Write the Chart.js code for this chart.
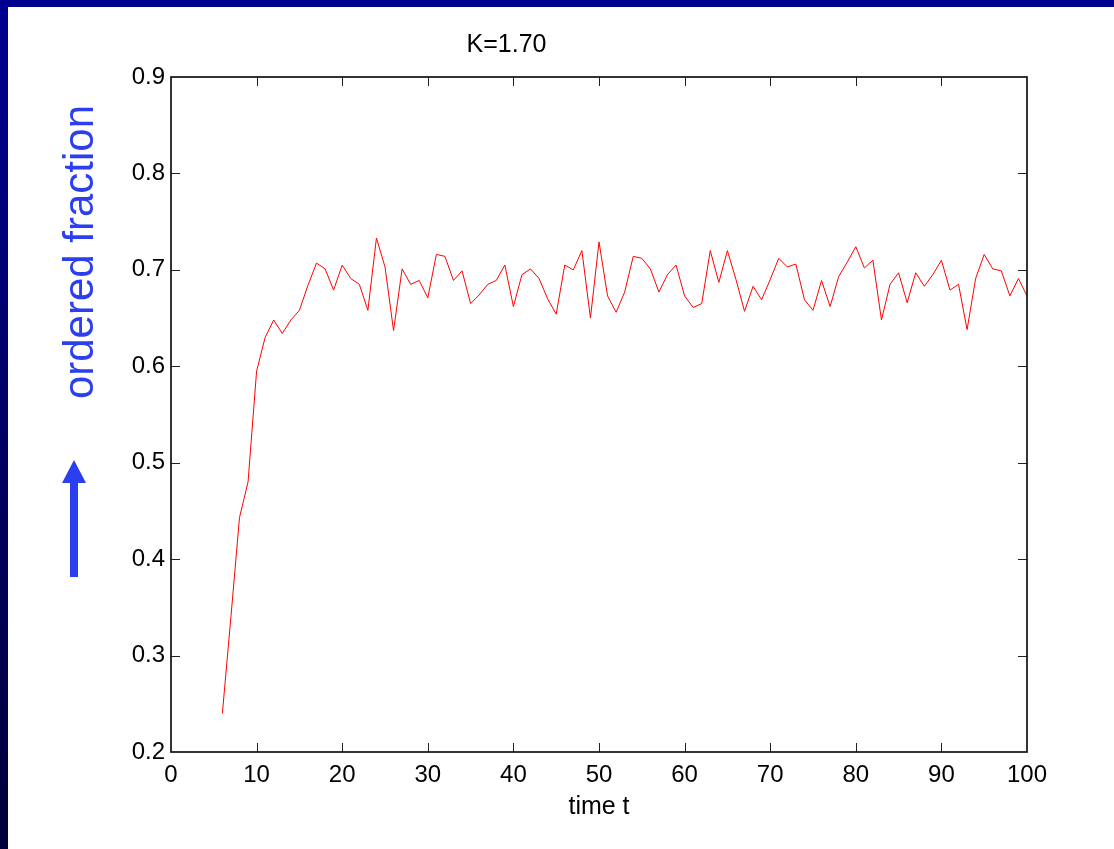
<!DOCTYPE html>
<html>
<head>
<meta charset="utf-8">
<title>K=1.70</title>
<script src="https://cdn.jsdelivr.net/npm/chart.js@4"></script>
<style>
    html, body { margin: 0; padding: 0; background: #ffffff; overflow: hidden; }
    .frame-top { position: absolute; left: 0; top: 0; width: 1114px; height: 7px; background: #000090; z-index: 2; }
    .frame-left { position: absolute; left: 0; top: 0; width: 8px; height: 849px; background: linear-gradient(#000090, #00003a); z-index: 2; }
    /* canvas hangs 14px off the left edge so the title centres where the original has it */
    canvas { position: absolute; left: -14px; top: 0; }
</style>
</head>
<body>
<div class="frame-top"></div>
<div class="frame-left"></div>
<canvas id="order-chart" width="1128" height="849"></canvas>
<script>
// ordered fraction vs time, K = 1.70
const chartTitle = "K=1.70"
const xAxisLabel = "time t"
const yAxisLabel = "ordered fraction"

const firstStep = 6
const orderedFraction = [
    0.240, 0.340, 0.443, 0.480, 0.595, 0.630, 0.648, 0.634, 0.648, 0.658,
    0.684, 0.707, 0.701, 0.679, 0.705, 0.691, 0.685, 0.658, 0.733, 0.703,
    0.637, 0.701, 0.685, 0.689, 0.671, 0.716, 0.714, 0.689, 0.699, 0.665,
    0.674, 0.685, 0.689, 0.705, 0.662, 0.695, 0.701, 0.691, 0.670, 0.654,
    0.705, 0.700, 0.720, 0.650, 0.729, 0.673, 0.656, 0.677, 0.714, 0.712,
    0.701, 0.677, 0.695, 0.705, 0.673, 0.661, 0.665, 0.720, 0.687, 0.720,
    0.690, 0.657, 0.683, 0.669, 0.690, 0.712, 0.703, 0.706, 0.669, 0.658,
    0.689, 0.662, 0.693, 0.708, 0.724, 0.702, 0.710, 0.648, 0.685, 0.697,
    0.666, 0.697, 0.683, 0.695, 0.710, 0.679, 0.685, 0.638, 0.691, 0.716,
    0.701, 0.699, 0.673, 0.691, 0.673
]
const timeSteps = orderedFraction.map((_, i) => firstStep + i)

const xTicks = [0, 10, 20, 30, 40, 50, 60, 70, 80, 90, 100]
const yTicks = [0.2, 0.3, 0.4, 0.5, 0.6, 0.7, 0.8, 0.9]

const fontFamily = "'Liberation Sans', Arial, Helvetica, sans-serif"
const labelBlue = "#2b3ff0"
const shift = 14

// MATLAB-like box with inward ticks on all four sides
const boxPlugin = {
    id: "matlabBox",
    afterDraw(chart){
        const { ctx, chartArea: area, scales } = chart
        const tickLen = 9

        ctx.save()
        ctx.strokeStyle = "#222222"
        ctx.lineWidth = 1
        xTicks.slice(1, -1).forEach(value => {
            const x = Math.round(scales.x.getPixelForValue(value)) + 0.5
            ctx.beginPath()
            ctx.moveTo(x, area.bottom)
            ctx.lineTo(x, area.bottom - tickLen)
            ctx.moveTo(x, area.top)
            ctx.lineTo(x, area.top + tickLen)
            ctx.stroke()
        })
        yTicks.slice(1, -1).forEach(value => {
            const y = Math.round(scales.y.getPixelForValue(value)) + 0.5
            ctx.beginPath()
            ctx.moveTo(area.left, y)
            ctx.lineTo(area.left + tickLen, y)
            ctx.moveTo(area.right, y)
            ctx.lineTo(area.right - tickLen, y)
            ctx.stroke()
        })

        ctx.strokeStyle = "#111111"
        ctx.lineWidth = 1.7
        ctx.strokeRect(area.left, area.top, area.right - area.left, area.bottom - area.top)
        ctx.restore()
    }
}

// blue rotated axis label with the upward arrow under it
const sideLabelPlugin = {
    id: "sideLabel",
    afterDraw(chart){
        const ctx = chart.ctx

        ctx.save()
        ctx.fillStyle = labelBlue
        ctx.font = `42px ${fontFamily}`
        ctx.textAlign = "center"
        ctx.textBaseline = "alphabetic"
        ctx.translate(shift + 93, 252)
        ctx.rotate(-Math.PI / 2)
        ctx.fillText(yAxisLabel, 0, 0)
        ctx.restore()

        ctx.save()
        ctx.fillStyle = labelBlue
        ctx.fillRect(shift + 70, 482, 8, 95)
        ctx.beginPath()
        ctx.moveTo(shift + 62, 483)
        ctx.lineTo(shift + 86, 483)
        ctx.lineTo(shift + 74, 460)
        ctx.closePath()
        ctx.fill()
        ctx.restore()
    }
}

const context = document.getElementById("order-chart").getContext("2d")

const chart = new Chart(context, {
    type: "line",
    data: {
        datasets: [{
            label: yAxisLabel,
            data: timeSteps.map((t, i) => ({ x: t, y: orderedFraction[i] })),
            borderColor: "#ff0000",
            borderWidth: 1,
            pointRadius: 0,
            tension: 0,
            fill: false
        }]
    },
    options: {
        responsive: false,
        animation: false,
        layout: { padding: { left: 0, right: 87, top: 0, bottom: 0 } },
        plugins: {
            legend: { display: false },
            tooltip: { enabled: false },
            title: {
                display: true,
                text: chartTitle,
                color: "#000000",
                font: { family: fontFamily, size: 25, weight: "normal" },
                padding: { top: 30, bottom: 17 }
            }
        },
        scales: {
            x: {
                type: "linear",
                min: 0,
                max: 100,
                afterFit: scale => { scale.height = 97 },
                afterBuildTicks: scale => { scale.ticks = xTicks.map(value => ({ value })) },
                grid: { display: false, drawTicks: false },
                border: { display: false },
                ticks: {
                    autoSkip: false,
                    maxRotation: 0,
                    padding: 9,
                    color: "#000000",
                    font: { family: fontFamily, size: 24 }
                },
                title: {
                    display: true,
                    text: xAxisLabel,
                    color: "#000000",
                    font: { family: fontFamily, size: 25 },
                    padding: { top: 0, bottom: 27 }
                }
            },
            y: {
                type: "linear",
                min: 0.2,
                max: 0.9,
                afterFit: scale => { scale.width = 171 + shift },
                afterBuildTicks: scale => { scale.ticks = yTicks.map(value => ({ value })) },
                grid: { display: false, drawTicks: false },
                border: { display: false },
                ticks: {
                    padding: 6,
                    color: "#000000",
                    font: { family: fontFamily, size: 24 },
                    callback: value => value.toFixed(1)
                }
            }
        }
    },
    plugins: [boxPlugin, sideLabelPlugin]
})
</script>
</body>
</html>
